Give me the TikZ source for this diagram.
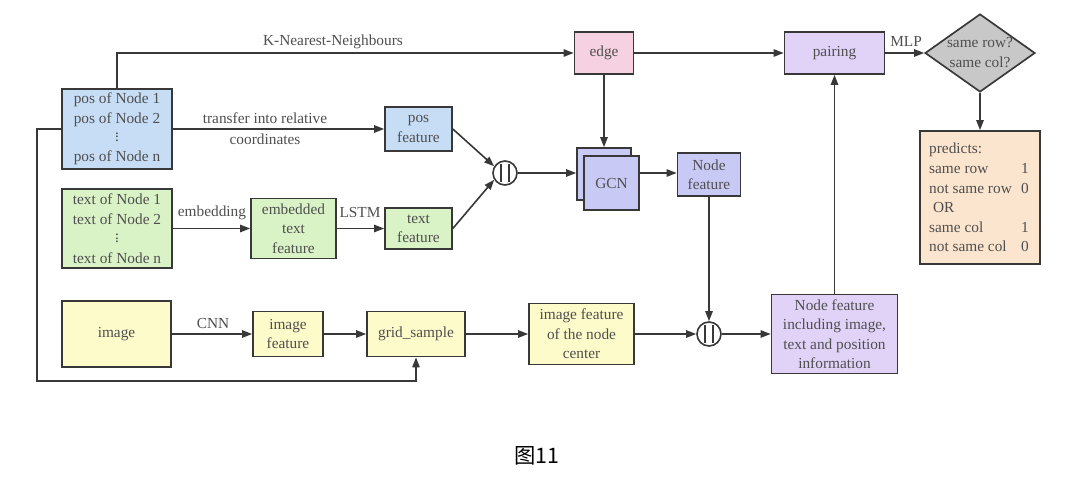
\documentclass[tikz,border=0pt]{standalone}
\usepackage{fontspec}
\setmainfont{Liberation Serif}
\newfontfamily\cjkfont{Noto Sans CJK SC}
\usetikzlibrary{arrows.meta,shapes.geometric}
\definecolor{linec}{HTML}{383838}
\definecolor{txt}{HTML}{4F4F4F}
\definecolor{cblue}{HTML}{C7DDF5}
\definecolor{cgreen}{HTML}{DAF3C6}
\definecolor{cyellow}{HTML}{FDFBC9}
\definecolor{cpink}{HTML}{F6D1E1}
\definecolor{clav}{HTML}{E1D2F8}
\definecolor{cgcn}{HTML}{C9C9F6}
\definecolor{cgray}{HTML}{C8C8C8}
\definecolor{cpeach}{HTML}{FCE5CE}
\newcommand\vdts{\raisebox{0.5pt}{\vbox{\baselineskip2.9pt\lineskiplimit0pt\hbox{.}\hbox{.}\hbox{.}}}}
\begin{document}
\begin{tikzpicture}[x=0.75pt,y=-0.75pt,
  box/.style={draw=linec, line width=1.25pt, inner sep=1pt, align=center, text=txt,
    font=\fontsize{11.5}{14.6}\selectfont},
  arr/.style={draw=linec, line width=1.2pt, -{Triangle[length=7.5pt,width=5.5pt]}},
  lbl/.style={text=txt, inner sep=1pt, font=\fontsize{11.5}{14}\selectfont},
  cat/.style={circle, draw=linec, line width=1.2pt, fill=white, minimum size=18pt, inner sep=0pt}]
\fill[white] (0,0) rectangle (1080,481);
\useasboundingbox (0,0) rectangle (1080,481);

% left column
\node[box, fill=cblue, minimum width=82.5pt, minimum height=60pt] (pos) at (117,129)
  {pos of Node 1\\pos of Node 2\\\vdts\\pos of Node n};
\node[box, fill=cgreen, minimum width=82.5pt, minimum height=59.25pt] (txtn) at (117,228.5)
  {text of Node 1\\text of Node 2\\\vdts\\text of Node n};
\node[box, fill=cyellow, minimum width=81.75pt, minimum height=49.5pt] (img) at (116.5,334) {image};

% middle
\node[box, fill=cblue, minimum width=50.25pt, minimum height=33pt] (posf) at (418.5,129) {pos\\feature};
\node[box, fill=cgreen, minimum width=63.75pt, minimum height=45pt] (emb) at (293.5,228.5) {embedded\\text\\feature};
\node[box, fill=cgreen, minimum width=50.25pt, minimum height=30.75pt] (txtf) at (418.5,228.5) {text\\feature};
\node[box, fill=cyellow, minimum width=52.5pt, minimum height=33.75pt] (imgf) at (288,334) {image\\feature};
\node[box, fill=cyellow, minimum width=73.5pt, minimum height=33.75pt] (grid) at (416,334) {grid\_sample};
\node[box, fill=cyellow, minimum width=78.75pt, minimum height=45.75pt] (imgc) at (581.5,334) {image feature\\of the node\\center};

\node[cat] (c1) at (505,173) {};
\draw[linec, line width=0.9pt] ([xshift=-3pt,yshift=-6.5pt]c1.center) -- ++(0,13pt)
  ([xshift=3pt,yshift=-6.5pt]c1.center) -- ++(0,13pt);
\node[cat] (c2) at (709,334) {};
\draw[linec, line width=0.9pt] ([xshift=-3pt,yshift=-6.5pt]c2.center) -- ++(0,13pt)
  ([xshift=3pt,yshift=-6.5pt]c2.center) -- ++(0,13pt);

\node[box, fill=cpink, minimum width=44.25pt, minimum height=31.5pt] (edge) at (604,53) {edge};
\node[box, fill=cgcn, minimum width=40.5pt, minimum height=39pt] (gcnb) at (604,174) {};
\node[box, fill=cgcn, minimum width=41.25pt, minimum height=40.5pt] (gcnf) at (611.5,183) {GCN};
\node[box, fill=cgcn, minimum width=47.25pt, minimum height=32.25pt] (nf) at (709,174.5) {Node\\feature};

% right
\node[box, fill=clav, minimum width=75pt, minimum height=31.5pt] (pair) at (834.5,53) {pairing};
\node[box, fill=clav, minimum width=94.5pt, minimum height=59.25pt] (nfi) at (834.5,334)
  {Node feature\\including image,\\text and position\\information};
\node[diamond, draw=linec, line width=1.25pt, fill=cgray, minimum width=82.5pt, minimum height=58.5pt,
  inner sep=0pt] (dia) at (980,53) {};
\node[lbl, align=center, font=\fontsize{11.5}{15}\selectfont] (diat) at (dia) {same row?\\same col?};
\node[box, fill=cpeach, minimum width=90pt, minimum height=99.75pt] (pred) at (980,197.5) {};
\node[lbl, font=\fontsize{11.5}{14.7}\selectfont, inner sep=0pt] (predt) at (979,199)
  {\begin{tabular}{@{}l@{\hspace{7pt}}r@{}}
   predicts: & \\
   same row & 1\\
   not same row & 0\\
   \ OR & \\
   same col & 1\\
   not same col & 0
   \end{tabular}};

% connectors
\draw[arr] (pos.north) -- (117,53) -- (edge.west);
\node[lbl] (knn) at (333,42) {K-Nearest-Neighbours};
\draw[arr] (edge.east) -- (pair.west);
\draw[arr] (pair.east) -- (dia.west);
\node[lbl] (mlp) at (906,41) {MLP};
\draw[arr] (dia.south) -- (pred.north);
\draw[arr] (edge.south) -- (edge.south |- gcnb.north);

\draw[arr] (pos.east) -- (posf.west);
\node[lbl, align=center, font=\fontsize{11.5}{15.75}\selectfont] (trl) at (265,129)
  {transfer into relative\\coordinates};
\draw[arr] (txtn.east) -- (emb.west);
\node[lbl] (embl) at (212,213) {embedding};
\draw[arr] (emb.east) -- (txtf.west);
\node[lbl] (lstm) at (360,212) {LSTM};
\draw[arr] (posf.east) -- (c1.148);
\draw[arr] (txtf.east) -- (c1.212);
\draw[arr] (c1.east) -- (c1.east -| gcnb.west);
\draw[arr] (gcnf.east |- c1) -- (nf.west |- c1);
\draw[arr] (nf.south) -- (c2.north);

\draw[arr] (img.east) -- (imgf.west);
\node[lbl] (cnn) at (213,323) {CNN};
\draw[arr] (imgf.east) -- (grid.west);
\draw[arr] (grid.east) -- (imgc.west);
\draw[arr] (imgc.east) -- (c2.west);
\draw[arr] (c2.east) -- (nfi.west);
\draw[arr] (nfi.north) -- (nfi.north |- pair.south);
\draw[arr] (pos.west) -- (37,129) -- (37,381) -| (grid.south);

\node[font=\cjkfont\fontsize{16}{18}\selectfont, text=black] (cap) at (537,456) {图11};
\end{tikzpicture}
\end{document}
